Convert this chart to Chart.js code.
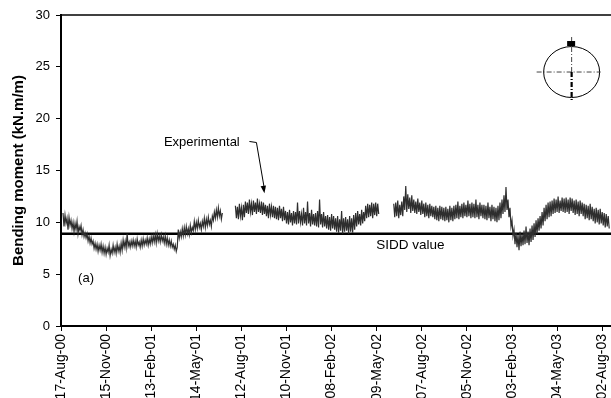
<!DOCTYPE html>
<html>
<head>
<meta charset="utf-8">
<script src="https://cdn.jsdelivr.net/npm/chart.js@4"></script>
<style>
  html, body { margin: 0; padding: 0; background: #fff; overflow: hidden; }
  #wrap { position: relative; width: 622px; height: 420px; }
</style>
</head>
<body>
<div id="wrap"><canvas id="chart"></canvas></div>
<script>
// tick labels (one every 90 days, starting 17-Aug-00)
const tickLabels = ['17-Aug-00', '15-Nov-00', '13-Feb-01', '14-May-01', '12-Aug-01', '10-Nov-01',
  '08-Feb-02', '09-May-02', '07-Aug-02', '05-Nov-02', '03-Feb-03', '04-May-03', '02-Aug-03'];
const tickStepDays = 90;

// measured bending moment, kN.m/m, one reading every 2 days within each logging period
const readingStepDays = 2;

const seg1Start = 4;
const seg1 = [
  10.9, 9.6, 10.7, 9.9, 10.4, 9.3, 10.5, 9.7, 10.2, 9.4,
  10.0, 9.1, 9.9, 9.3, 10.1, 8.9, 9.6, 9.2, 9.7, 8.8,
  9.3, 8.6, 9.0, 8.5, 8.9, 8.2, 8.7, 8.0, 8.5, 7.9,
  8.2, 7.5, 8.0, 7.4, 7.9, 7.2, 7.8, 7.3, 7.9, 7.1,
  7.7, 7.0, 7.6, 6.9, 7.5, 7.1, 7.8, 6.8, 7.4, 7.0,
  7.8, 7.1, 7.6, 7.0, 7.9, 7.2, 7.7, 7.1, 8.0, 7.3,
  8.3, 7.6, 8.2, 7.5, 8.9, 7.7, 8.1, 7.6, 8.2, 7.7,
  8.3, 7.7, 8.2, 7.6, 8.4, 7.8, 8.1, 7.6, 8.3, 7.7,
  8.4, 7.8, 8.3, 7.9, 8.5, 7.8, 8.4, 7.9, 8.6, 8.0,
  8.7, 8.1, 8.8, 8.0, 8.9, 8.2, 8.7, 8.1, 8.8, 8.2,
  8.6, 8.0, 8.7, 7.9, 8.5, 7.8, 8.3, 7.7, 8.2, 7.6,
  7.9, 7.4, 7.8, 7.2, 7.6, 9.3, 8.5, 9.1, 8.6, 9.4,
  8.7, 9.5, 8.8, 9.6, 8.9, 9.4, 8.8, 9.7, 9.0, 9.5,
  9.2, 10.1, 9.3, 10.0, 9.4, 10.2, 9.5, 9.9, 9.3, 10.1,
  9.6, 10.4, 9.5, 10.3, 9.7, 10.5, 9.8, 10.2, 9.6, 10.6,
  10.2, 11.0, 10.4, 11.2, 10.5, 11.4, 10.6, 11.1, 10.3, 10.9];

const seg2Start = 348;
const seg2 = [
  11.6, 10.4, 11.5, 10.3, 11.8, 10.6, 11.4, 10.2, 11.7, 10.5,
  12.0, 10.9, 11.9, 10.8, 12.2, 11.0, 11.8, 10.7, 12.1, 11.0,
  11.9, 10.8, 12.3, 11.0, 11.8, 10.9, 12.0, 10.7, 11.9, 10.8,
  11.7, 10.6, 11.6, 10.4, 11.8, 10.7, 11.5, 10.5, 11.6, 10.4,
  11.5, 10.3, 11.4, 10.2, 11.6, 10.4, 11.3, 10.1, 11.5, 10.2,
  11.1, 9.9, 11.0, 9.8, 11.2, 10.0, 10.9, 9.7, 11.1, 9.9,
  11.0, 9.8, 11.9, 9.9, 11.1, 10.0, 10.8, 9.7, 11.4, 9.9,
  11.0, 9.7, 12.0, 9.9, 10.9, 9.6, 11.2, 9.8, 10.8, 9.7,
  10.9, 9.6, 11.1, 9.5, 12.2, 9.8, 10.8, 9.5, 11.0, 9.6,
  10.6, 9.4, 10.7, 9.3, 10.5, 9.2, 10.8, 9.4, 10.6, 9.3,
  10.4, 9.1, 10.6, 9.0, 10.3, 9.2, 11.1, 8.9, 10.4, 9.1,
  10.5, 9.2, 10.3, 8.9, 10.6, 9.1, 10.4, 9.0, 10.7, 9.3,
  10.9, 9.6, 11.1, 9.8, 10.8, 9.7, 11.2, 9.9, 11.0, 10.1,
  11.6, 10.4, 11.8, 10.5, 11.7, 10.6, 11.9, 10.4, 11.8, 10.7,
  11.9, 10.6, 11.8, 10.8];

const seg3Start = 664;
const seg3 = [
  11.8, 10.5, 11.9, 10.6, 12.1, 10.4, 11.7, 10.7, 12.0, 10.6,
  12.5, 11.2, 13.5, 11.0, 12.7, 11.3, 12.4, 10.9, 12.6, 11.1,
  12.2, 10.9, 12.0, 10.8, 12.3, 11.0, 11.9, 10.7, 12.1, 10.8,
  11.8, 10.5, 11.9, 10.6, 11.7, 10.4, 11.8, 10.6, 11.6, 10.5,
  11.5, 10.3, 11.6, 10.2, 11.4, 10.1, 11.6, 10.3, 11.5, 10.2,
  11.4, 10.1, 11.5, 10.2, 11.3, 10.0, 11.6, 10.2, 11.4, 10.1,
  11.6, 10.3, 11.7, 10.4, 12.0, 10.3, 11.6, 10.5, 11.8, 10.4,
  11.9, 10.6, 11.7, 10.5, 12.1, 10.6, 11.8, 10.4, 11.9, 10.5,
  11.8, 10.4, 12.2, 10.5, 11.7, 10.3, 11.9, 10.6, 11.7, 10.4,
  11.7, 10.3, 11.6, 10.2, 11.9, 10.4, 11.5, 10.1, 11.7, 10.3,
  11.5, 10.1, 11.4, 10.0, 11.6, 10.2, 11.9, 10.4, 12.2, 10.8,
  12.6, 11.0, 13.4, 11.2, 12.2, 10.5, 11.4, 9.6, 10.2, 8.7,
  9.3, 7.9, 9.0, 7.6, 8.8, 7.3, 9.1, 7.7, 8.9, 7.8,
  9.2, 7.9, 9.6, 8.0, 9.1, 7.8, 9.4, 8.1, 9.7, 8.3,
  9.9, 8.6, 10.2, 8.9, 10.4, 9.2, 10.6, 9.4, 11.0, 9.7,
  11.4, 10.1, 11.7, 10.3, 11.9, 10.5, 12.0, 10.6, 12.1, 10.8,
  12.3, 10.9, 12.2, 11.0, 12.5, 10.9, 12.1, 11.1, 12.4, 11.0,
  12.3, 10.9, 12.4, 11.0, 12.2, 10.8, 12.4, 11.1, 12.3, 10.9,
  12.1, 10.7, 12.2, 10.8, 12.0, 10.6, 12.1, 10.8, 11.9, 10.6,
  11.8, 10.3, 11.7, 10.4, 11.6, 10.2, 11.8, 10.3, 11.5, 10.1,
  11.3, 9.9, 11.4, 10.0, 11.2, 9.8, 11.3, 9.9, 11.0, 9.7,
  10.9, 9.5, 10.8, 9.6, 10.6, 9.4];

const siddValue = 8.9;
const xMaxDays = 1100;

// build the line points, with a break between logging periods
const segments = [[seg1Start, seg1], [seg2Start, seg2], [seg3Start, seg3]];
const expPoints = [];
segments.forEach(([start, vals], i) => {
    if (i > 0) expPoints.push({ x: start - 1, y: null });
    vals.forEach((v, j) => expPoints.push({ x: start + j * readingStepDays, y: v }));
});

const tickDays = tickLabels.map((_, i) => i * tickStepDays);

const FONT = "'Liberation Sans', Arial, sans-serif";

// frame, annotations and the little pipe section sketch
const decorations = {
    id: 'decorations',
    afterDatasetsDraw(chart) {
        const { ctx, chartArea, scales } = chart;
        const x = scales.x, y = scales.y;
        ctx.save();
        // top frame line
        ctx.strokeStyle = '#000';
        ctx.lineWidth = 1.5;
        ctx.beginPath();
        ctx.moveTo(chartArea.left, chartArea.top);
        ctx.lineTo(chartArea.right, chartArea.top);
        ctx.stroke();

        ctx.fillStyle = '#000';
        ctx.textAlign = 'center';
        ctx.textBaseline = 'middle';
        ctx.font = '13px ' + FONT;
        ctx.fillText('Experimental', x.getPixelForValue(281), y.getPixelForValue(17.7));
        ctx.fillText('(a)', x.getPixelForValue(50), y.getPixelForValue(4.6));
        ctx.font = '13.5px ' + FONT;
        ctx.fillText('SIDD value', x.getPixelForValue(697), y.getPixelForValue(7.8));

        // arrow to the curve
        const ax0 = x.getPixelForValue(376), ay0 = y.getPixelForValue(17.8);
        const ax1 = x.getPixelForValue(390), ay1 = y.getPixelForValue(17.7);
        const ax2 = x.getPixelForValue(406), ay2 = y.getPixelForValue(12.8);
        ctx.lineWidth = 1;
        ctx.beginPath();
        ctx.moveTo(ax0, ay0);
        ctx.lineTo(ax1, ay1);
        ctx.lineTo(ax2, ay2 - 4);
        ctx.stroke();
        const ang = Math.atan2(ay2 - ay1, ax2 - ax1);
        ctx.beginPath();
        ctx.moveTo(ax2, ay2);
        ctx.lineTo(ax2 - 8 * Math.cos(ang - 0.35), ay2 - 8 * Math.sin(ang - 0.35));
        ctx.lineTo(ax2 - 8 * Math.cos(ang + 0.35), ay2 - 8 * Math.sin(ang + 0.35));
        ctx.closePath();
        ctx.fill();

        // pipe cross-section sketch
        const cx = x.getPixelForValue(1019), cy = y.getPixelForValue(24.5);
        ctx.lineWidth = 1;
        ctx.beginPath();
        ctx.ellipse(cx, cy, 28, 25.5, 0, 0, Math.PI * 2);
        ctx.stroke();
        ctx.setLineDash([5, 2, 1, 2]);
        ctx.strokeStyle = '#444';
        ctx.beginPath();
        ctx.moveTo(cx - 35, cy);
        ctx.lineTo(cx + 29, cy);
        ctx.moveTo(cx, cy - 35);
        ctx.lineTo(cx, cy);
        ctx.stroke();
        ctx.strokeStyle = '#000';
        ctx.lineWidth = 2.2;
        ctx.beginPath();
        ctx.moveTo(cx, cy);
        ctx.lineTo(cx, cy + 29);
        ctx.stroke();
        ctx.setLineDash([]);
        ctx.fillRect(cx - 4.5, cy - 31, 8, 5);
        ctx.restore();
    }
};

new Chart(document.getElementById('chart'), {
    type: 'line',
    data: {
        datasets: [
            {
                label: 'Experimental',
                data: expPoints,
                borderColor: '#2e2e2e',
                borderWidth: 1.2,
                pointRadius: 0,
                tension: 0,
                spanGaps: false
            },
            {
                label: 'SIDD value',
                data: [{ x: 0, y: siddValue }, { x: xMaxDays, y: siddValue }],
                borderColor: '#000',
                borderWidth: 2.5,
                pointRadius: 0
            }
        ]
    },
    options: {
        responsive: true,
        maintainAspectRatio: false,
        animation: false,
        layout: { padding: { top: 15, right: 0, bottom: 0, left: 0 } },
        plugins: { legend: { display: false }, tooltip: { enabled: false } },
        scales: {
            x: {
                type: 'linear',
                min: 0,
                max: xMaxDays,
                afterBuildTicks: s => { s.ticks = tickDays.map(v => ({ value: v })); },
                afterFit: s => { s.height = 94; },
                grid: { display: true, drawOnChartArea: false, drawTicks: true, tickLength: 5, color: '#000', lineWidth: 1 },
                border: { display: true, color: '#000', width: 2 },
                ticks: {
                    autoSkip: false,
                    maxRotation: 90,
                    minRotation: 90,
                    padding: 3,
                    color: '#000',
                    font: { family: FONT, size: 14 },
                    callback: v => tickLabels[tickDays.indexOf(v)]
                }
            },
            y: {
                min: 0,
                max: 30,
                afterFit: s => { s.width = 61; },
                grid: { display: true, drawOnChartArea: false, drawTicks: true, tickLength: 5, color: '#000', lineWidth: 1 },
                border: { display: true, color: '#000', width: 2 },
                ticks: { stepSize: 5, padding: 6, color: '#000', font: { family: FONT, size: 13 } },
                title: {
                    display: true,
                    text: 'Bending moment (kN.m/m)',
                    color: '#000',
                    font: { family: FONT, size: 15, weight: 'bold' },
                    padding: { top: 10, bottom: 0 }
                }
            }
        }
    },
    plugins: [decorations]
});
</script>
</body>
</html>
